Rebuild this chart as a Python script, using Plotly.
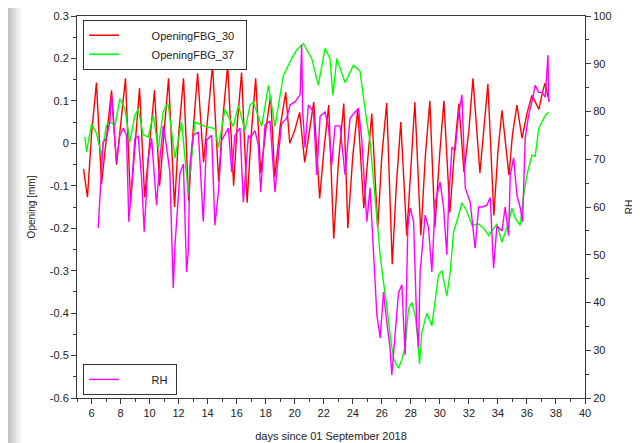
import plotly.graph_objects as go

# ---- data ----
red_t = [5.45, 5.72, 6.0, 6.34, 6.69, 7.05, 7.38, 7.72, 8.05, 8.34, 8.69, 9.0, 9.31, 9.66, 10.0, 10.34,
         10.69, 11.0, 11.31, 11.72, 12.0, 12.34, 12.69, 13.0, 13.31, 13.72, 14.0, 14.34, 14.76, 15.05,
         15.38, 15.79, 16.05, 16.34, 16.72, 17.0, 17.31, 17.66, 18.0, 18.34, 18.62, 19.0, 19.38, 19.66,
         20.0, 20.34, 20.69, 21.0, 21.31, 21.72, 22.0, 22.34, 22.69, 23.0, 23.38, 23.66, 24.0, 24.34,
         24.76, 25.0, 25.31, 25.72, 26.0, 26.34, 26.72, 27.0, 27.31, 27.72, 28.0, 28.28, 28.69, 29.0,
         29.31, 29.66, 30.0, 30.28, 30.69, 31.0, 31.31, 31.66, 32.0, 32.28, 32.76, 33.0, 33.31, 33.72,
         34.0, 34.28, 34.76, 35.0, 35.31, 35.66, 36.0, 36.34, 36.83, 37.0, 37.24, 37.52]
red_v = [-0.06, -0.127, 0.02, 0.143, -0.095, 0.02, 0.125, -0.05, 0.05, 0.153, -0.14, 0.0, 0.13, -0.127,
         0.0, 0.125, -0.1, 0.02, 0.153, -0.15, 0.02, 0.153, -0.135, 0.03, 0.165, -0.045, 0.06, 0.184,
         -0.09, 0.06, 0.184, -0.1, 0.05, 0.167, -0.14, 0.02, 0.153, -0.07, 0.03, 0.113, -0.08, 0.04,
         0.12, 0.0, 0.03, 0.073, -0.045, 0.03, 0.097, -0.13, -0.02, 0.09, -0.225, -0.05, 0.094, -0.2,
         -0.03, 0.08, -0.153, -0.05, 0.07, -0.2, -0.03, 0.095, -0.285, -0.1, 0.05, -0.217, -0.05, 0.097,
         -0.217, -0.03, 0.1, -0.198, -0.02, 0.1, -0.163, -0.02, 0.094, -0.068, 0.03, 0.153, -0.07, 0.03,
         0.14, -0.17, -0.02, 0.078, -0.075, 0.02, 0.09, 0.012, 0.07, 0.113, 0.08, 0.11, 0.142, 0.1]

green_t = [5.54, 5.66, 6.0, 6.34, 6.69, 7.03, 7.38, 7.61, 7.95, 8.30, 8.64, 8.99, 9.22, 9.56, 9.91,
           10.25, 10.60, 10.94, 11.17, 11.29, 11.75, 12.21, 12.67, 13.12, 13.81, 14.50, 14.74, 15.19,
           15.77, 16.12, 16.57, 16.92, 17.15, 17.72, 18.19, 18.64, 19.22, 19.79, 20.14, 20.60, 21.17,
           21.63, 22.09, 22.43, 22.63, 22.90, 23.47, 24.05, 24.50, 24.74, 24.97, 25.19, 25.43, 25.66,
           25.89, 26.12, 26.34, 26.57, 26.81, 27.15, 27.38, 27.61, 27.84, 28.07, 28.30, 28.45, 28.60,
           28.76, 29.10, 29.45, 29.68, 29.91, 30.14, 30.48, 30.71, 30.94, 31.29, 31.52, 31.86, 32.21,
           32.67, 33.01, 33.36, 33.93, 34.28, 34.74, 34.97, 35.20, 35.54, 35.77, 36.0, 36.34, 36.57,
           36.81, 37.26, 37.50]
green_v = [0.015, -0.02, 0.046, 0.024, -0.028, 0.043, 0.05, 0.04, 0.105, 0.082, 0.003, 0.066, 0.08,
           0.02, 0.015, 0.066, -0.013, 0.074, 0.09, 0.09, -0.035, 0.05, -0.12, 0.05, 0.04, 0.035, -0.01,
           0.08, 0.04, 0.09, 0.03, 0.09, 0.097, 0.04, 0.137, 0.04, 0.16, 0.2, 0.22, 0.235, 0.2, 0.137,
           0.224, 0.2, 0.113, 0.2, 0.143, 0.184, 0.17, 0.106, 0.05, 0.005, -0.083, -0.17, -0.264, -0.328,
           -0.38, -0.45, -0.507, -0.53, -0.51, -0.48, -0.39, -0.375, -0.405, -0.45, -0.52, -0.446, -0.40,
           -0.43, -0.375, -0.31, -0.30, -0.36, -0.305, -0.21, -0.17, -0.14, -0.16, -0.193, -0.19, -0.20,
           -0.217, -0.19, -0.233, -0.186, -0.153, -0.177, -0.193, -0.123, -0.075, -0.028, -0.03, 0.035,
           0.066, 0.073]

rh_t = [6.46, 6.57, 6.80, 7.03, 7.26, 7.38, 7.61, 7.72, 7.95, 8.19, 8.41, 8.57, 8.76, 8.99, 9.22, 9.45,
        9.63, 9.91, 10.14, 10.48, 10.71, 10.94, 11.06, 11.40, 11.63, 11.75, 12.09, 12.33, 12.55, 12.67,
        12.78, 13.01, 13.36, 13.70, 13.93, 14.28, 14.50, 14.74, 14.97, 15.43, 15.66, 15.88, 16.23, 16.46,
        16.81, 16.92, 17.26, 17.49, 17.66, 17.95, 18.30, 18.64, 18.88, 19.10, 19.45, 19.68, 20.02, 20.37,
        20.48, 20.55, 20.71, 20.94, 21.29, 21.52, 21.75, 22.09, 22.32, 22.55, 22.78, 23.12, 23.47, 23.81,
        24.16, 24.39, 24.62, 24.97, 25.19, 25.43, 25.66, 25.89, 26.12, 26.34, 26.57, 26.69, 26.92, 27.15,
        27.38, 27.61, 27.79, 27.95, 28.19, 28.41, 28.53, 28.64, 28.99, 29.22, 29.45, 29.68, 30.02, 30.26,
        30.48, 30.60, 30.83, 31.06, 31.29, 31.52, 31.75, 32.09, 32.43, 32.67, 32.90, 33.24, 33.47, 33.70,
        33.93, 34.28, 34.50, 34.74, 34.85, 35.08, 35.31, 35.54, 35.70, 35.88, 36.12, 36.34, 36.57, 36.81,
        37.03, 37.26, 37.45, 37.50]
rh_v = [55.6, 61, 73.6, 74.4, 77.8, 83.5, 75, 69.4, 75, 76.5, 75, 56.9, 64, 74.4, 74.8, 66, 54.8, 70,
        74.4, 60.4, 70, 77, 75, 67.3, 43, 52, 67, 69, 46.4, 51, 69, 75, 75.7, 56.9, 74, 75, 56.2, 63, 74,
        76.5, 67.3, 75, 76.5, 61, 75, 74.4, 76, 73, 63.1, 77.2, 78, 63.1, 71, 77.5, 78.6, 81.4, 82, 83.5,
        94, 80, 72.4, 81.4, 80, 66.7, 79, 79.9, 77, 68.8, 77, 77, 66.7, 78.6, 79.9, 80.7, 74, 56.9, 64,
        51.4, 37.4, 32.6, 42.2, 36, 30.5, 24.8, 33, 42, 43.7, 29, 55.6, 59.8, 57, 35.3, 30.5, 46.4, 58.3,
        55.6, 46.4, 61, 65.2, 59.8, 50, 61, 72.4, 72, 79.3, 83.5, 64, 61, 51.4, 60, 60, 60.4, 62, 47.2,
        56, 55, 60, 54, 66.7, 70.3, 62.5, 59.8, 56.9, 74.4, 79.3, 82, 85.5, 84, 84, 83, 91.8, 82]

x_ticks = list(range(6, 41, 2))
y_ticks = [0.3, 0.2, 0.1, 0, -0.1, -0.2, -0.3, -0.4, -0.5, -0.6]
y_tick_text = ["0.3", "0.2", "0.1", "0", "-0.1", "-0.2", "-0.3", "-0.4", "-0.5", "-0.6"]
rh_ticks = list(range(20, 101, 10))

FONT = "Liberation Sans"
AX = "#3a3a3a"
PAD = "\u00a0" * 9

fig = go.Figure()
fig.add_trace(go.Scatter(x=red_t, y=red_v, mode="lines", name=PAD + "OpeningFBG_30" + "\u00a0\u00a0",
                         line=dict(color="#ff0000", width=1.4), legend="legend"))
fig.add_trace(go.Scatter(x=green_t, y=green_v, mode="lines", name=PAD + "OpeningFBG_37" + "\u00a0\u00a0",
                         line=dict(color="#00ff00", width=1.4), legend="legend"))
fig.add_trace(go.Scatter(x=rh_t, y=rh_v, mode="lines", name=PAD + "RH" + "\u00a0", yaxis="y2",
                         line=dict(color="#ff00ff", width=1.4), legend="legend2"))

# page body is offset by 8px, so plot area in figure coords: x 69..577, y 8..390
L, W = 69.0, 508.0
grays = ["#c4c4c4", "#cdcdcd", "#d6d6d6", "#dfdfdf", "#e8e8e8", "#f1f1f1", "#f8f8f8"]
for i, g in enumerate(grays):
    x0 = 0 + i * 2
    fig.add_shape(type="rect", xref="paper", yref="paper", layer="below",
                  x0=(x0 - L) / W, x1=(x0 + 2 - L) / W, y0=-1, y1=2,
                  fillcolor=g, line=dict(width=0))

fig.update_layout(
    width=640, height=443,
    margin=dict(l=69, r=63, t=8, b=53, autoexpand=False),
    paper_bgcolor="white", plot_bgcolor="white",
    font=dict(family=FONT, size=11, color="#222"),
    showlegend=True,
    legend=dict(x=0.012, y=0.99, xanchor="left", yanchor="top",
                bgcolor="white", bordercolor="#333", borderwidth=1,
                font=dict(family=FONT, size=11, color="#222"), tracegroupgap=0),
    legend2=dict(x=0.012, y=0.008, xanchor="left", yanchor="bottom",
                 bgcolor="white", bordercolor="#333", borderwidth=1,
                 font=dict(family=FONT, size=11, color="#222")),
    xaxis=dict(range=[5, 40], tickvals=x_ticks, ticks="outside", ticklen=5, tickcolor=AX,
               showline=True, linecolor=AX, linewidth=1, mirror=True, showgrid=False, zeroline=False,
               automargin=False,
               minor=dict(dtick=1, tick0=5, ticks="outside", ticklen=3, tickcolor=AX),
               title=dict(text="days since 01 September 2018", standoff=14,
                          font=dict(family=FONT, size=11)),
               tickfont=dict(family=FONT, size=11)),
    yaxis=dict(range=[-0.6, 0.3], tickvals=y_ticks, ticktext=y_tick_text, ticks="outside",
               ticklen=5, tickcolor=AX, showline=True, linecolor=AX, linewidth=1, mirror=True,
               showgrid=False, zeroline=False, automargin=False,
               minor=dict(dtick=0.05, tick0=0, ticks="outside", ticklen=3, tickcolor=AX),
               title=dict(text="Opening [mm]", standoff=12, font=dict(family=FONT, size=10)),
               tickfont=dict(family=FONT, size=11)),
    yaxis2=dict(range=[20, 100], tickvals=rh_ticks, overlaying="y", side="right", ticks="outside",
                ticklen=5, tickcolor=AX, showline=True, linecolor=AX, linewidth=1,
                showgrid=False, zeroline=False, automargin=False,
                minor=dict(dtick=5, tick0=0, ticks="outside", ticklen=3, tickcolor=AX),
                title=dict(text="RH", standoff=15, font=dict(family=FONT, size=10)),
                tickfont=dict(family=FONT, size=11)),
)

fig.write_html("out.html")
